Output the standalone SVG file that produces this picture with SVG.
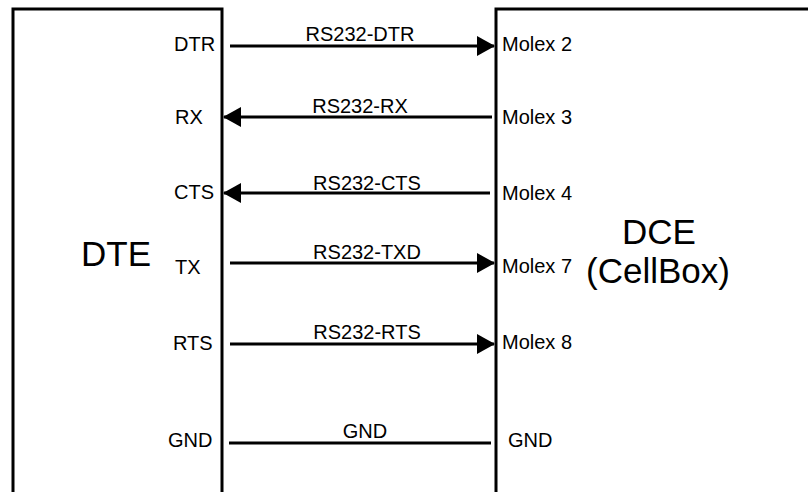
<svg xmlns="http://www.w3.org/2000/svg" width="808" height="492" viewBox="0 0 808 492">
<style>
.box{fill:#fff;stroke:#000;stroke-width:3}
.t{font-family:"Liberation Sans",Arial,sans-serif;font-size:20px;fill:#000}
.big{font-family:"Liberation Sans",Arial,sans-serif;font-size:35px;fill:#000}
.c{text-anchor:middle}
.w{stroke:#000;stroke-width:3;fill:none}
</style>
<defs>
<marker id="ah" viewBox="0 0 18 20" refX="17" refY="10" markerWidth="18" markerHeight="20" markerUnits="userSpaceOnUse" orient="auto">
<path d="M0,0 L18,10 L0,20 Z" fill="#000"/>
</marker>
</defs>
<rect width="808" height="492" fill="#fff"/>
<g id="dte">
<rect class="box" x="13" y="9" width="209" height="500"/>
<text class="big" x="81" y="266">DTE</text>
<text class="t" x="174" y="51">DTR</text>
<text class="t" x="175" y="124">RX</text>
<text class="t" x="174" y="199">CTS</text>
<text class="t" x="175" y="274">TX</text>
<text class="t" x="173" y="350">RTS</text>
<text class="t" x="168" y="447">GND</text>
</g>
<g id="dce">
<rect class="box" x="496" y="9" width="330" height="500"/>
<text class="big c" x="659" y="244">DCE</text>
<text class="big c" x="658" y="283">(CellBox)</text>
<text class="t" x="502" y="51">Molex 2</text>
<text class="t" x="502" y="124">Molex 3</text>
<text class="t" x="502" y="200">Molex 4</text>
<text class="t" x="502" y="273">Molex 7</text>
<text class="t" x="502" y="349">Molex 8</text>
<text class="t" x="508" y="447">GND</text>
</g>
<g id="connectors">
<line class="w" x1="230" y1="46" x2="494" y2="46" marker-end="url(#ah)"/>
<text class="t c" x="360" y="41">RS232-DTR</text>
<line class="w" x1="492" y1="117" x2="224" y2="117" marker-end="url(#ah)"/>
<text class="t c" x="360" y="113">RS232-RX</text>
<line class="w" x1="490" y1="193" x2="224" y2="193" marker-end="url(#ah)"/>
<text class="t c" x="367" y="190">RS232-CTS</text>
<line class="w" x1="230" y1="263" x2="494" y2="263" marker-end="url(#ah)"/>
<text class="t c" x="367" y="259">RS232-TXD</text>
<line class="w" x1="230" y1="344" x2="494" y2="344" marker-end="url(#ah)"/>
<text class="t c" x="367" y="339">RS232-RTS</text>
<line class="w" x1="229" y1="443" x2="491" y2="443"/>
<text class="t c" x="365" y="438">GND</text>
</g>
</svg>
